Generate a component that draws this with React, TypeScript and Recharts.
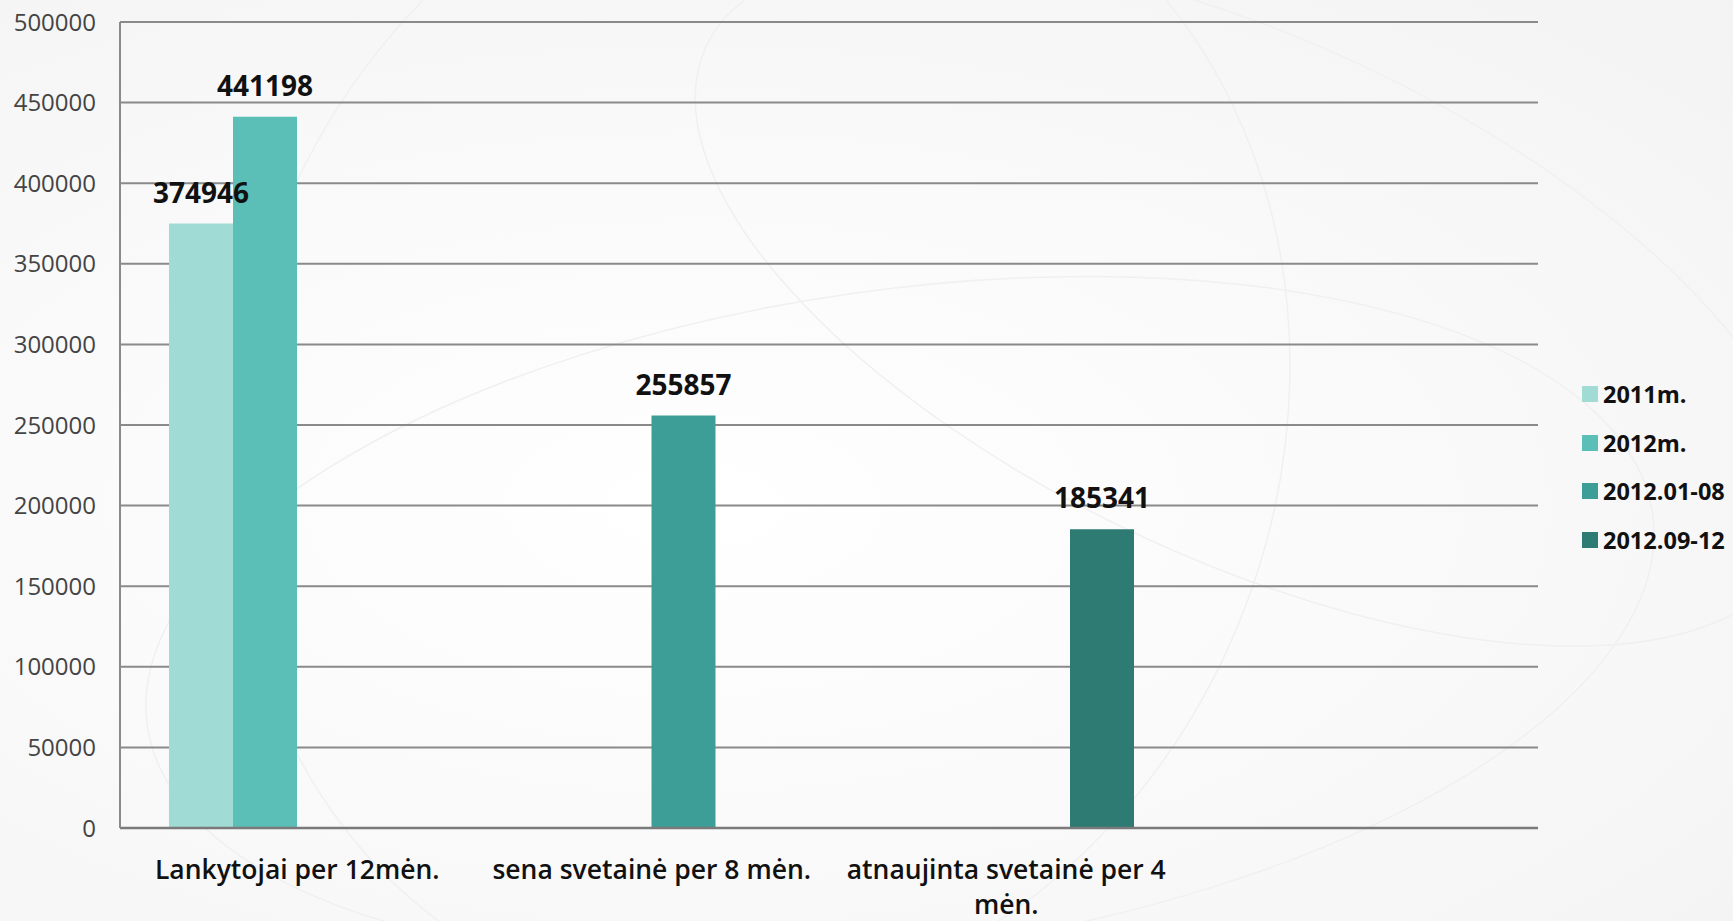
import React from 'react';
import { BarChart, Bar, XAxis, YAxis, CartesianGrid, LabelList } from 'recharts';

const categories = ['Lankytojai per 12mėn.', 'sena svetainė per 8 mėn.', 'atnaujinta svetainė per 4 mėn.', ''];
const visits2011 = [374946, null, null, null];
const visits2012 = [441198, null, null, null];
const visitsJanAug = [null, 255857, null, null];
const visitsSepDec = [null, null, 185341, null];

const seriesKeys = ['y2011', 'y2012', 'janAug', 'sepDec'];
const seriesNames = ['2011m.', '2012m.', '2012.01-08', '2012.09-12'];
const seriesColors = ['#a1dbd6', '#5bbfb8', '#3c9e97', '#2e7b74'];
const yTicks = [0, 50000, 100000, 150000, 200000, 250000, 300000, 350000, 400000, 450000, 500000];

const data = categories.map((name, i) => ({
  name,
  y2011: visits2011[i],
  y2012: visits2012[i],
  janAug: visitsJanAug[i],
  sepDec: visitsSepDec[i],
}));

const CAT_FONT = '600 26.5px "Open Sans"';

function wrapWords(text: string, maxWidth: number): string[] {
  if (!text) return [];
  const ctx = document.createElement('canvas').getContext('2d');
  if (!ctx) return [text];
  ctx.font = CAT_FONT;
  const words = text.split(' ');
  const lines: string[] = [];
  let cur = '';
  words.forEach((w) => {
    const test = cur ? cur + ' ' + w : w;
    if (ctx.measureText(test).width > maxWidth && cur) {
      lines.push(cur);
      cur = w;
    } else {
      cur = test;
    }
  });
  if (cur) lines.push(cur);
  return lines;
}

const CategoryTick = (props: any) => {
  const { x, y, payload } = props;
  const lines = wrapWords(payload.value, 345);
  return (
    <g transform={`translate(${x},${y})`}>
      {lines.map((line, i) => (
        <text
          key={i}
          x={0}
          y={51 + i * 35}
          textAnchor="middle"
          fill="#111"
          style={{ font: CAT_FONT }}
        >
          {line}
        </text>
      ))}
    </g>
  );
};

export default function App() {
  return (
    <div
      style={{
        position: 'absolute',
        left: 0,
        top: 0,
        width: 1733,
        height: 921,
        background: 'radial-gradient(ellipse at 40% 55%, #ffffff 0%, #fafafa 45%, #f3f3f3 100%)',
        overflow: 'hidden',
      }}
    >
      <style>{`body { margin: 0; }`}</style>
      <svg width={1733} height={921} style={{ position: 'absolute', left: 0, top: 0 }}>
        <g fill="none" stroke="#f0f0f0" strokeWidth={1.5}>
          <ellipse cx={900} cy={620} rx={760} ry={330} transform="rotate(-8 900 620)" />
          <ellipse cx={760} cy={420} rx={520} ry={600} transform="rotate(20 760 420)" />
          <ellipse cx={1250} cy={300} rx={600} ry={260} transform="rotate(25 1250 300)" />
        </g>
      </svg>
      <div style={{ position: 'absolute', left: 0, top: 0 }}>
        <BarChart
          width={1733}
          height={921}
          data={data}
          margin={{ top: 22, right: 195, bottom: 0, left: 0 }}
          barGap={0}
        >
          <CartesianGrid vertical={false} stroke="#8a8a8a" strokeWidth={2} />
          <XAxis
            dataKey="name"
            height={93}
            tickLine={false}
            tickSize={0}
            tickMargin={0}
            axisLine={{ stroke: '#7a7a7a', strokeWidth: 2.5 }}
            tick={<CategoryTick />}
            interval={0}
          />
          <YAxis
            width={120}
            domain={[0, 500000]}
            ticks={yTicks}
            interval={0}
            tickLine={false}
            tickSize={6}
            tickMargin={18}
            axisLine={{ stroke: '#8a8a8a', strokeWidth: 2 }}
            tick={{ fill: '#444', fontSize: 24, fontFamily: '"Open Sans"' }}
          />
          {seriesKeys.map((key, i) => (
            <Bar key={key} dataKey={key} name={seriesNames[i]} fill={seriesColors[i]} barSize={64} isAnimationActive={false}>
              <LabelList
                dataKey={key}
                position="top"
                offset={21}
                fill="#111"
                style={{ fontSize: 28, fontWeight: 700, fontFamily: '"Open Sans"' }}
              />
            </Bar>
          ))}
        </BarChart>
      </div>
      <div style={{ position: 'absolute', left: 1582, top: 370 }}>
        {seriesNames.map((name, i) => (
          <div key={name} style={{ display: 'flex', alignItems: 'center', height: 48.5 }}>
            <span style={{ width: 16, height: 16, background: seriesColors[i], display: 'inline-block' }} />
            <span
              style={{
                marginLeft: 5,
                font: '700 23.5px "Open Sans"',
                color: '#111',
                whiteSpace: 'nowrap',
                lineHeight: '32px',
              }}
            >
              {name}
            </span>
          </div>
        ))}
      </div>
    </div>
  );
}
